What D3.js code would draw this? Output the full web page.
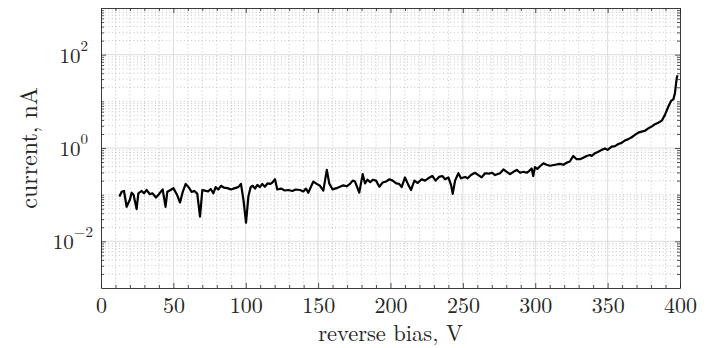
<!DOCTYPE html>
<html><head><meta charset="utf-8">
<script src="https://cdn.jsdelivr.net/npm/d3@7"></script>
<style>body{margin:0;background:#fff}svg{display:block}</style>
</head><body>
<svg id="chart" width="708" height="348"></svg>
<script>
// ---- data ----
const voltage = [12.7,14.3,15.9,17.7,20,21.2,22.5,24.6,25.8,28.1,29.7,31.5,33.8,35.5,38,40,42.6,44.6,45.8,48.1,50,52.5,54.6,56.5,58.5,60.5,62.6,64.5,66.5,68.4,70,71.8,74,75.8,77.6,79.2,81,82.9,85,87.4,89.8,92.5,94.8,96.7,98.4,100.2,101.8,103.4,104.8,106.4,108,109.8,111.4,113.2,115,117,118.4,120.2,121.8,124.3,127,129.4,132.2,134.5,137.5,139.8,141.6,143.2,146.7,149,151.3,153.6,156,157.7,160,162.7,165,167.4,169.7,172,173.9,175.5,178.4,180.8,182.4,184,186,187.8,190,192.3,194.6,196.9,199.2,201.5,204,206,207.7,210,212.3,214.2,216.5,218.8,221.5,223.8,226.1,228.9,231.2,233.5,235.8,237.7,240,241.8,243,244.6,246.9,248.7,251.5,253.3,255.6,258.4,260.7,263,265.3,268,270.3,272.2,275.7,278,280.3,282.6,284.9,287.2,289.5,291.8,294.1,295.9,297.5,298.6,299.8,301.4,303.3,305.6,307.9,310.2,313.7,317.1,319.4,322,323.9,326.3,328.6,330.9,333.2,335.5,337.8,339,341.3,343.6,345.9,348.2,350,352.8,355.1,357.4,359.7,362,364.3,366.6,368.9,371.2,373.5,375.8,378.1,380.4,382.7,385,387.4,389.6,391.9,393.8,395.4,396.5,397.7,398.3];
const current = [0.091,0.115,0.120,0.055,0.079,0.110,0.100,0.049,0.107,0.120,0.107,0.126,0.102,0.107,0.087,0.102,0.130,0.055,0.115,0.126,0.138,0.100,0.068,0.115,0.170,0.145,0.115,0.120,0.105,0.034,0.126,0.122,0.117,0.132,0.107,0.145,0.129,0.155,0.141,0.138,0.129,0.138,0.145,0.170,0.078,0.025,0.091,0.145,0.155,0.135,0.162,0.145,0.170,0.148,0.174,0.170,0.182,0.214,0.129,0.135,0.123,0.126,0.120,0.129,0.126,0.117,0.135,0.110,0.191,0.170,0.155,0.122,0.339,0.174,0.130,0.138,0.148,0.158,0.151,0.170,0.200,0.191,0.110,0.275,0.174,0.209,0.186,0.209,0.200,0.148,0.182,0.191,0.214,0.200,0.174,0.170,0.145,0.234,0.162,0.126,0.200,0.178,0.214,0.200,0.224,0.251,0.200,0.240,0.251,0.214,0.234,0.162,0.104,0.200,0.288,0.224,0.240,0.224,0.263,0.295,0.263,0.234,0.288,0.282,0.295,0.263,0.288,0.347,0.309,0.275,0.309,0.339,0.295,0.309,0.295,0.324,0.363,0.251,0.389,0.355,0.407,0.468,0.437,0.417,0.437,0.457,0.437,0.490,0.513,0.676,0.575,0.575,0.617,0.676,0.708,0.676,0.776,0.832,0.912,0.977,0.912,1.07,1.10,1.22,1.29,1.45,1.55,1.70,1.91,2.14,2.24,2.34,2.63,2.88,3.24,3.47,3.85,5.13,7.67,10.2,11.0,14.8,30.9,36.3];
const xTickValues = [0,50,100,150,200,250,300,350,400];
const yTickExponents = [-2,0,2];
const xLabel = "reverse bias, V";
const yLabel = "current, nA";

// ---- layout ----
const svg = d3.select("#chart");
const L=101, R=680, T=8, B=288;
const x = d3.scaleLinear().domain([0,400]).range([L,R]);
const y = d3.scaleLog().domain([1e-3,1e3]).range([B,T]);
const axisColor = "#262626";
const font = "'Latin Modern Roman','CMU Serif','Liberation Serif',serif";

const xMinor = d3.range(10,400,10).filter(v=>v%50!==0);
const yMajor = yTickExponents.map(e=>Math.pow(10,e));
const yMinor = [];
for (let e=-3;e<3;e++) for (let k=1;k<10;k++){ const v=k*Math.pow(10,e); if(!(k===1 && yTickExponents.includes(e)) && v>1e-3) yMinor.push(v); }

const grid = svg.append("g");
grid.selectAll(".xm").data(xMinor).join("line")
  .attr("x1",d=>x(d)).attr("x2",d=>x(d)).attr("y1",T).attr("y2",B)
  .attr("stroke","#a0a0a0").attr("stroke-width",0.6).attr("stroke-dasharray","1,2.6");
grid.selectAll(".ym").data(yMinor).join("line")
  .attr("x1",L).attr("x2",R).attr("y1",d=>y(d)).attr("y2",d=>y(d))
  .attr("stroke","#a0a0a0").attr("stroke-width",0.6).attr("stroke-dasharray","1,2.6");
grid.selectAll(".xM").data(xTickValues.slice(1,-1)).join("line")
  .attr("x1",d=>x(d)).attr("x2",d=>x(d)).attr("y1",T).attr("y2",B)
  .attr("stroke","#d8d8d8").attr("stroke-width",0.9);
grid.selectAll(".yM").data(yMajor).join("line")
  .attr("x1",L).attr("x2",R).attr("y1",d=>y(d)).attr("y2",d=>y(d))
  .attr("stroke","#d8d8d8").attr("stroke-width",0.9);

const line = d3.line().x((d,i)=>x(voltage[i])).y(d=>y(d));
svg.append("path").datum(current).attr("d",line)
  .attr("fill","none").attr("stroke","#000").attr("stroke-width",2.2).attr("stroke-linejoin","round");

function styleAxis(g){ g.select(".domain").attr("stroke",axisColor).attr("stroke-width",0.9);
  g.selectAll(".tick line").attr("stroke",axisColor).attr("stroke-width",0.8); }
function minor(g){ g.select(".domain").remove(); g.selectAll(".tick line").attr("stroke",axisColor).attr("stroke-width",0.8); }

const xb = svg.append("g").attr("transform",`translate(0,${B})`)
  .call(d3.axisBottom(x).tickValues(xTickValues).tickSizeInner(-5).tickSizeOuter(0).tickPadding(9).tickFormat(d3.format("d")));
styleAxis(xb);
xb.selectAll("text").attr("font-family",font).attr("font-size",22).attr("fill",axisColor).attr("dy","0.71em");
svg.append("g").attr("transform",`translate(0,${B})`)
  .call(d3.axisBottom(x).tickValues(xMinor).tickSizeInner(-3).tickSizeOuter(0).tickFormat("")).call(minor);
const xt = svg.append("g").attr("transform",`translate(0,${T})`)
  .call(d3.axisTop(x).tickValues(xTickValues).tickSizeInner(-5).tickSizeOuter(0).tickFormat(""));
styleAxis(xt);
svg.append("g").attr("transform",`translate(0,${T})`)
  .call(d3.axisTop(x).tickValues(xMinor).tickSizeInner(-3).tickSizeOuter(0).tickFormat("")).call(minor);

const yl = svg.append("g").attr("transform",`translate(${L},0)`)
  .call(d3.axisLeft(y).tickValues(yMajor).tickSizeInner(-5).tickSizeOuter(0).tickFormat(""));
styleAxis(yl);
yl.selectAll(".tick").each(function(d){
  const e = Math.round(Math.log10(d));
  const t = d3.select(this).append("text").attr("font-family",font).attr("fill",axisColor)
    .attr("text-anchor","end").attr("x", e<0 ? -8 : -13).attr("y",7.5);
  t.append("tspan").attr("font-size",21).text("10");
  t.append("tspan").attr("font-size",15).attr("dy",-12).text(e<0 ? "\u2212"+(-e) : String(e));
});
svg.append("g").attr("transform",`translate(${L},0)`)
  .call(d3.axisLeft(y).tickValues(yMinor).tickSizeInner(-3).tickSizeOuter(0).tickFormat("")).call(minor);
const yr = svg.append("g").attr("transform",`translate(${R},0)`)
  .call(d3.axisRight(y).tickValues(yMajor).tickSizeInner(-5).tickSizeOuter(0).tickFormat(""));
styleAxis(yr);
svg.append("g").attr("transform",`translate(${R},0)`)
  .call(d3.axisRight(y).tickValues(yMinor).tickSizeInner(-3).tickSizeOuter(0).tickFormat("")).call(minor);

svg.append("text").attr("x",(L+R)/2).attr("y",341).attr("text-anchor","middle")
  .attr("font-family",font).attr("font-size",22.5).attr("fill",axisColor).text(xLabel);
svg.append("text").attr("transform",`translate(37,${(T+B)/2}) rotate(-90)`).attr("text-anchor","middle")
  .attr("font-family",font).attr("font-size",24).attr("fill",axisColor).text(yLabel);
</script>
</body></html>
